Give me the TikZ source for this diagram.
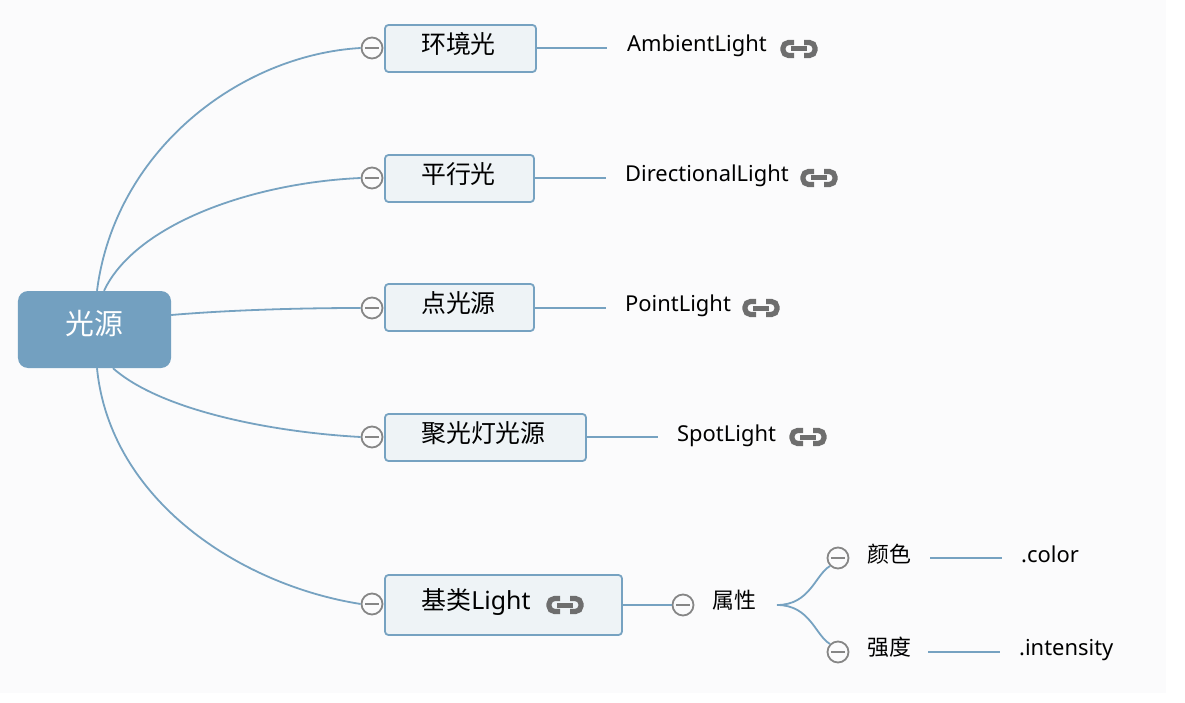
\documentclass[tikz,border=0pt]{standalone}
\usepackage{fontspec}
\setmainfont{Noto Sans}
\newfontfamily\cjk{Noto Sans CJK SC}
\usetikzlibrary{calc}
\definecolor{edgeblue}{HTML}{76A2C1}
\definecolor{rootblue}{HTML}{73A0C0}
\definecolor{boxfill}{HTML}{EEF3F6}
\definecolor{canvas}{HTML}{FBFBFC}
\definecolor{ctlgray}{HTML}{868686}
\definecolor{icongray}{HTML}{6E6E6E}
\tikzset{
  x=1bp,y=-1bp,
  rootnode/.style={draw=none,fill=rootblue,rounded corners=10bp,minimum width=153bp,minimum height=77bp,inner sep=0,text=white,font=\cjk\fontsize{29}{31}\selectfont,text height=22bp,text depth=6bp},
  topic/.style={draw=edgeblue,line width=1.8bp,fill=boxfill,rounded corners=3.5bp,minimum height=47bp,inner sep=0,font=\cjk\fontsize{25}{28}\selectfont,text height=18bp,text depth=6bp},
  lbl/.style={inner sep=0,anchor=base west,font=\fontsize{22}{26}\selectfont},
  cjklbl/.style={inner sep=0,anchor=base west,font=\cjk\fontsize{22}{26}\selectfont},
  link/.style={draw=edgeblue,line width=1.8bp},
  ctl/.style={circle,draw=ctlgray,line width=1.8bp,fill=canvas,minimum size=21bp,inner sep=0,
    path picture={\draw[ctlgray,line width=1.8bp] ([xshift=-7bp]path picture bounding box.center) -- ([xshift=7bp]path picture bounding box.center);}},
  linkicon/.pic={
    \draw[icongray,line width=5.2bp,rounded corners=5.5bp] (-5,-6.5) -- (-16,-6.5) -- (-16,6.5) -- (-5,6.5);
    \draw[icongray,line width=5.2bp,rounded corners=5.5bp] (5,-6.5) -- (16,-6.5) -- (16,6.5) -- (5,6.5);
    \draw[icongray,line width=5bp] (-8,0) -- (8,0);
  }
}
\begin{document}
\begin{tikzpicture}
\useasboundingbox (0,0) rectangle (1185,703);
\fill[white] (0,0) rectangle (1185,703);
\fill[canvas] (0,0) rectangle (1166,693);

\node[rootnode] (root) at (94.5,329.5) {\raisebox{3bp}{光源}};

\node[topic,minimum width=151bp] (t1) at (460.5,48.5) {\raisebox{1bp}{环境光\hspace{4bp}}};
\node[topic,minimum width=149bp] (t2) at (459.5,178.5) {\raisebox{1bp}{平行光\hspace{2bp}}};
\node[topic,minimum width=149bp] (t3) at (459.5,307.5) {\raisebox{1bp}{点光源\hspace{2bp}}};
\node[topic,minimum width=201bp] (t4) at (485.5,437.5) {\raisebox{1bp}{聚光灯光源\hspace{4bp}}};
\node[topic,minimum width=237bp,minimum height=60bp] (t5) at (503.5,605) {\raisebox{2bp}{基类{\normalfont\fontsize{25}{28}\selectfont Light}\hspace{55bp}}};

\node[ctl] (c1) at (372,48) {};
\node[ctl] (c2) at (372,178) {};
\node[ctl] (c3) at (372,308) {};
\node[ctl] (c4) at (372,437) {};
\node[ctl] (c5) at (372,604) {};
\node[ctl] (c6) at (683,605) {};
\node[ctl] (c7) at (838,558) {};
\node[ctl] (c8) at (838,652) {};

\node[lbl] (ambient) at (627,52) {AmbientLight};
\node[lbl] (directional) at (625,182) {DirectionalLight};
\node[lbl] (point) at (625,311) {PointLight};
\node[lbl] (spot) at (677,441) {SpotLight};
\node[cjklbl] (attr) at (712,608) {属性};
\node[cjklbl] (colorzh) at (867,562) {颜色};
\node[cjklbl] (intenszh) at (867,655) {强度};
\node[lbl] (colorlbl) at (1021,562) {.color};
\node[lbl] (intenslbl) at (1019,655) {.intensity};

\pic at (799,49) {linkicon};
\pic at (819,178) {linkicon};
\pic at (761,308) {linkicon};
\pic at (808,437) {linkicon};
\pic at (565,605) {linkicon};

\coordinate (e1) at (607,48);
\coordinate (e2) at (606,178);
\coordinate (e3) at (606,308);
\coordinate (e4) at (658,437);
\coordinate (a0) at (777,605);
\coordinate (e7a) at (930,558);
\coordinate (e7b) at (1002,558);
\coordinate (e8a) at (928,652);
\coordinate (e8b) at (1000,652);

\draw[link] ([xshift=2.5bp]root.north) .. controls (115,150) and (240,55) .. (c1.west);
\draw[link] ([xshift=9.5bp]root.north) .. controls (135,225) and (250,183) .. (c2.west);
\draw[link] ([yshift=14.5bp]root.east) .. controls (230,310) and (300,308) .. (c3.west);
\draw[link] ([xshift=18.5bp]root.south) .. controls (160,410) and (270,432) .. (c4.west);
\draw[link] ([xshift=2.5bp]root.south) .. controls (110,500) and (240,585) .. (c5.west);

\draw[link] (t1.east |- e1) -- (e1);
\draw[link] (t2.east |- e2) -- (e2);
\draw[link] (t3.east |- e3) -- (e3);
\draw[link] (t4.east |- e4) -- (e4);
\draw[link] (t5.east |- c6) -- (c6.west);

\draw[link] (a0) .. controls (810,605) and (815,575) .. (c7.south west);
\draw[link] (a0) .. controls (810,605) and (815,635) .. (c8.north west);
\draw[link] (e7a) -- (e7b);
\draw[link] (e8a) -- (e8b);
\end{tikzpicture}
\end{document}
